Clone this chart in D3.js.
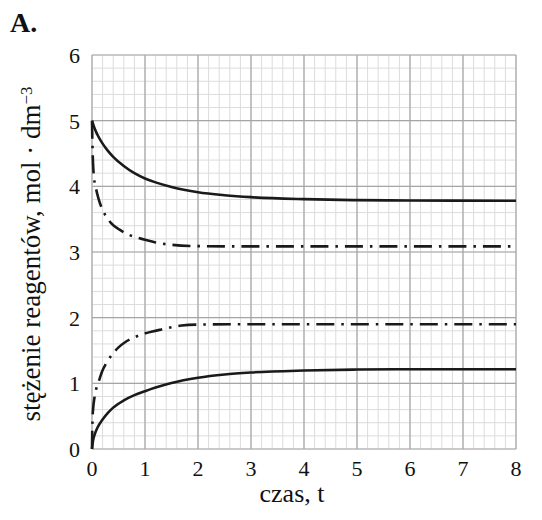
<!DOCTYPE html>
<html>
<head>
<meta charset="utf-8">
<script src="https://cdn.jsdelivr.net/npm/d3@7"></script>
<style>
  body { margin: 0; background: #fff; }
</style>
</head>
<body>
<div id="vis"></div>
<script>
// dane
const xTicks = [0, 1, 2, 3, 4, 5, 6, 7, 8];
const yTicks = [0, 1, 2, 3, 4, 5, 6];

// reagent - linia ciągła (góra)
const tCiaglaGora = [0, 0.05, 0.1, 0.2, 0.3, 0.4, 0.6, 0.8, 1, 1.2, 1.5, 2, 2.5, 3, 4, 5, 6, 8];
const cCiaglaGora = [5, 4.88, 4.79, 4.65, 4.54, 4.45, 4.31, 4.2, 4.12, 4.06, 3.99, 3.91, 3.865, 3.835, 3.805, 3.79, 3.785, 3.78];

// produkt - linia ciągła (dół)
const tCiaglaDol = [0, 0.02, 0.05, 0.1, 0.2, 0.3, 0.4, 0.6, 0.8, 1, 1.2, 1.5, 2, 2.5, 3, 4, 5, 6, 8];
const cCiaglaDol = [0, 0.13, 0.22, 0.32, 0.45, 0.55, 0.63, 0.74, 0.82, 0.88, 0.935, 1.005, 1.085, 1.135, 1.165, 1.195, 1.21, 1.215, 1.215];

// reagent - linia kreska-kropka (góra)
const tKreskaGora = [0, 0.005, 0.015, 0.04, 0.08, 0.12, 0.2, 0.26, 0.36, 0.52, 0.7, 0.87, 1, 1.2, 1.5, 2, 3, 8];
const cKreskaGora = [5, 4.75, 4.45, 4.12, 3.95, 3.82, 3.64, 3.55, 3.44, 3.34, 3.26, 3.215, 3.185, 3.145, 3.11, 3.09, 3.085, 3.085];

// produkt - linia kreska-kropka (dół)
const tKreskaDol = [0, 0.005, 0.01, 0.02, 0.05, 0.08, 0.14, 0.19, 0.28, 0.38, 0.49, 0.63, 0.8, 0.96, 1.14, 1.31, 1.69, 2, 3, 8];
const cKreskaDol = [0, 0.3, 0.46, 0.6, 0.8, 0.92, 1.06, 1.18, 1.32, 1.44, 1.54, 1.63, 1.70, 1.75, 1.79, 1.82, 1.88, 1.895, 1.9, 1.9];

const FONT = "Liberation Serif";

const WIDTH = 542;
const HEIGHT = 520;
const SVG = d3.select("#vis").append("svg").attr("width", WIDTH).attr("height", HEIGHT);

const x = d3.scaleLinear().domain([0, 8]).range([92, 516]);
const y = d3.scaleLinear().domain([0, 6]).range([449, 55]);

// siatka drobna co 0.2
const minorX = d3.range(0, 40.5).map(i => i / 5);
const minorY = d3.range(0, 30.5).map(i => i / 5);

SVG.append("g").selectAll("line")
    .data(minorX)
    .enter()
    .append("line")
    .attr("x1", d => x(d)).attr("x2", d => x(d))
    .attr("y1", y(0)).attr("y2", y(6))
    .attr("stroke", "#dcdcdc")
    .attr("stroke-width", 1);

SVG.append("g").selectAll("line")
    .data(minorY)
    .enter()
    .append("line")
    .attr("x1", x(0)).attr("x2", x(8))
    .attr("y1", d => y(d)).attr("y2", d => y(d))
    .attr("stroke", "#dcdcdc")
    .attr("stroke-width", 1);

// siatka główna
SVG.append("g").selectAll("line")
    .data(xTicks)
    .enter()
    .append("line")
    .attr("x1", d => x(d)).attr("x2", d => x(d))
    .attr("y1", y(0)).attr("y2", y(6))
    .attr("stroke", "#a6a6a6")
    .attr("stroke-width", 1.2);

SVG.append("g").selectAll("line")
    .data(yTicks)
    .enter()
    .append("line")
    .attr("x1", x(0)).attr("x2", x(8))
    .attr("y1", d => y(d)).attr("y2", d => y(d))
    .attr("stroke", "#a6a6a6")
    .attr("stroke-width", 1.2);

// etykiety osi
SVG.append("g").selectAll("text")
    .data(yTicks)
    .enter()
    .append("text")
    .attr("x", 80)
    .attr("y", d => y(d) + 8)
    .attr("text-anchor", "end")
    .attr("fill", "#111")
    .attr("font-family", FONT)
    .attr("font-size", 22)
    .text(d => d);

SVG.append("g").selectAll("text")
    .data(xTicks)
    .enter()
    .append("text")
    .attr("x", d => x(d))
    .attr("y", 476)
    .attr("text-anchor", "middle")
    .attr("fill", "#111")
    .attr("font-family", FONT)
    .attr("font-size", 22)
    .text(d => d);

SVG.append("text")
    .attr("x", 292)
    .attr("y", 502)
    .attr("text-anchor", "middle")
    .attr("fill", "#111")
    .attr("font-family", FONT)
    .attr("font-size", 26)
    .text("czas, t");

const yTitle = SVG.append("text")
    .attr("transform", "translate(40, 254) rotate(-90)")
    .attr("text-anchor", "middle")
    .attr("fill", "#111")
    .attr("font-family", FONT)
    .attr("font-size", 27);
yTitle.append("tspan").text("stężenie reagentów, mol · dm");
yTitle.append("tspan").attr("dy", "-0.5em").attr("font-size", 17).text("−3");

SVG.append("text")
    .attr("x", 10)
    .attr("y", 32)
    .attr("fill", "#111")
    .attr("font-family", FONT)
    .attr("font-size", 28)
    .attr("font-weight", "bold")
    .text("A.");

// krzywe
const linia = d3.line()
    .x(d => x(d[0]))
    .y(d => y(d[1]))
    .curve(d3.curveMonotoneX);

const serie = [
    { t: tCiaglaGora, c: cCiaglaGora, dash: null },
    { t: tCiaglaDol, c: cCiaglaDol, dash: null },
    { t: tKreskaGora, c: cKreskaGora, dash: "18,7,2.5,7" },
    { t: tKreskaDol, c: cKreskaDol, dash: "18,7,2.5,7" }
];

SVG.append("g").selectAll("path")
    .data(serie)
    .enter()
    .append("path")
    .attr("d", s => linia(s.t.map((t, i) => [t, s.c[i]])))
    .attr("fill", "none")
    .attr("stroke", "#1a1a1a")
    .attr("stroke-width", 2.6)
    .attr("stroke-dasharray", s => s.dash);
</script>
</body>
</html>
